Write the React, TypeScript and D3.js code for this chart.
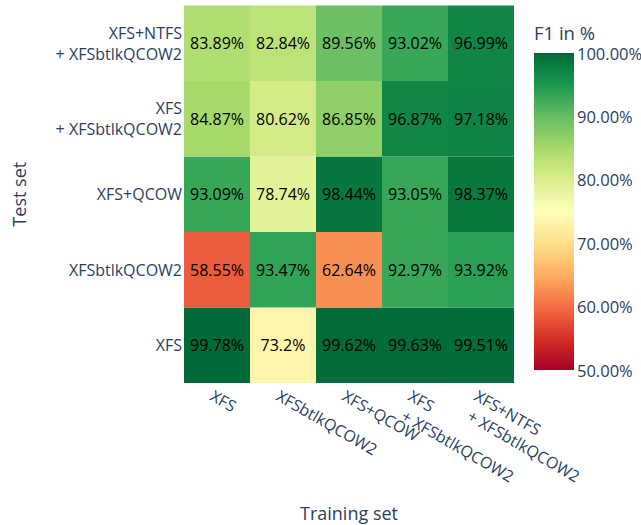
import { useEffect, useRef } from "react"
import * as d3 from "d3"

// training sets (columns) and test sets (rows, bottom to top)
const trainSets = ["XFS", "XFSbtlkQCOW2", "XFS+QCOW", "XFS\n+ XFSbtlkQCOW2", "XFS+NTFS\n+ XFSbtlkQCOW2"]
const testSets = ["XFS", "XFSbtlkQCOW2", "XFS+QCOW", "XFS\n+ XFSbtlkQCOW2", "XFS+NTFS\n+ XFSbtlkQCOW2"]

// F1 scores, one row per test set, one value per training set
const f1Xfs = [99.78, 73.2, 99.62, 99.63, 99.51]
const f1Btlk = [58.55, 93.47, 62.64, 92.97, 93.92]
const f1Qcow = [93.09, 78.74, 98.44, 93.05, 98.37]
const f1XfsBtlk = [84.87, 80.62, 86.85, 96.87, 97.18]
const f1XfsNtfsBtlk = [83.89, 82.84, 89.56, 93.02, 96.99]
const f1Rows = [f1Xfs, f1Btlk, f1Qcow, f1XfsBtlk, f1XfsNtfsBtlk]

const colorbarTicks = [50, 60, 70, 80, 90, 100]

const rdylgn = [
    "rgb(165,0,38)", "rgb(215,48,39)", "rgb(244,109,67)", "rgb(253,174,97)",
    "rgb(254,224,139)", "rgb(255,255,191)", "rgb(217,239,139)", "rgb(166,217,106)",
    "rgb(102,189,99)", "rgb(26,152,80)", "rgb(0,104,55)",
]

export default function App() {
    const svgRef = useRef(null)

    useEffect(() => {
        const width = 641
        const height = 525
        const plot = { left: 184, right: 514, top: 5.5, bottom: 383 }
        const font = "'Open Sans', sans-serif"
        const ink = "#2a3f5f"

        const svg = d3.select(svgRef.current)
        svg.selectAll("*").remove()
        svg.attr("width", width).attr("height", height)

        const x = d3.scaleBand().domain(trainSets).range([plot.left, plot.right])
        const y = d3.scaleBand().domain([...testSets].reverse()).range([plot.top, plot.bottom])

        const color = d3
            .scaleLinear<string>()
            .domain(rdylgn.map((_, i) => 50 + i * 5))
            .range(rdylgn)
            .interpolate(d3.interpolateRgb)
            .clamp(true)

        const cells = testSets.flatMap((t, r) => trainSets.map((tr, c) => ({ test: t, train: tr, v: f1Rows[r][c] })))

        svg
            .append("g")
            .selectAll("rect")
            .data(cells)
            .enter()
            .append("rect")
            .attr("x", (d) => x(d.train))
            .attr("y", (d) => y(d.test))
            .attr("width", x.bandwidth())
            .attr("height", y.bandwidth())
            .attr("fill", (d) => color(d.v))

        svg
            .append("g")
            .selectAll("text")
            .data(cells)
            .enter()
            .append("text")
            .attr("x", (d) => x(d.train) + x.bandwidth() / 2)
            .attr("y", (d) => y(d.test) + y.bandwidth() / 2)
            .attr("text-anchor", "middle")
            .attr("dominant-baseline", "central")
            .style("font-family", font)
            .style("font-size", "16px")
            .style("fill", "#000")
            .text((d) => `${d.v}%`)

        // y tick labels
        const yl = svg
            .append("g")
            .selectAll("text")
            .data(testSets)
            .enter()
            .append("text")
            .attr("text-anchor", "end")
            .style("font-family", font)
            .style("font-size", "16px")
            .style("fill", ink)
        yl.each(function (d) {
            const lines = d.split("\n")
            const cy = y(d) + y.bandwidth() / 2
            const lh = 21
            lines.forEach((ln, i) => {
                d3.select(this)
                    .append("tspan")
                    .attr("x", 182)
                    .attr("y", cy + (i - (lines.length - 1) / 2) * lh)
                    .attr("dominant-baseline", "central")
                    .text(ln)
            })
        })

        // x tick labels, rotated
        const xl = svg
            .append("g")
            .selectAll("g")
            .data(trainSets)
            .enter()
            .append("g")
            .attr("transform", (d) => `translate(${x(d) + x.bandwidth() / 2 - 2},${plot.bottom + 6}) rotate(30)`)
        xl.each(function (d) {
            d3.select(this)
                .selectAll("text")
                .data(d.split("\n"))
                .enter()
                .append("text")
                .attr("x", (_, i) => i * 4)
                .attr("y", (_, i) => 12 + i * 21)
                .style("font-family", font)
                .style("font-size", "16px")
                .style("fill", ink)
                .text((ln) => ln)
        })

        // axis titles
        svg
            .append("text")
            .attr("x", (plot.left + plot.right) / 2)
            .attr("y", 513)
            .attr("text-anchor", "middle")
            .attr("dominant-baseline", "central")
            .style("font-family", font)
            .style("font-size", "18px")
            .style("fill", ink)
            .text("Training set")

        svg
            .append("text")
            .attr("transform", `translate(19,${(plot.top + plot.bottom) / 2}) rotate(-90)`)
            .attr("text-anchor", "middle")
            .attr("dominant-baseline", "central")
            .style("font-family", font)
            .style("font-size", "18px")
            .style("fill", ink)
            .text("Test set")

        // colorbar
        const cb = { x: 534, w: 40, top: 53, bottom: 370 }
        const cbScale = d3.scaleLinear().domain([50, 100]).range([cb.bottom, cb.top])
        const grad = svg
            .append("defs")
            .append("linearGradient")
            .attr("id", "cbgrad")
            .attr("x1", 0)
            .attr("y1", 1)
            .attr("x2", 0)
            .attr("y2", 0)
        rdylgn.forEach((c, i) => {
            grad.append("stop").attr("offset", i / (rdylgn.length - 1)).attr("stop-color", c)
        })
        svg
            .append("rect")
            .attr("x", cb.x)
            .attr("y", cb.top)
            .attr("width", cb.w)
            .attr("height", cb.bottom - cb.top)
            .attr("fill", "url(#cbgrad)")

        svg
            .append("g")
            .selectAll("text")
            .data(colorbarTicks)
            .enter()
            .append("text")
            .attr("x", cb.x + cb.w + 3)
            .attr("y", (d) => cbScale(d))
            .attr("dominant-baseline", "central")
            .style("font-family", font)
            .style("font-size", "16.5px")
            .style("fill", ink)
            .text((d) => `${d.toFixed(2)}%`)

        svg
            .append("text")
            .attr("x", cb.x)
            .attr("y", 32)
            .attr("dominant-baseline", "central")
            .style("font-family", font)
            .style("font-size", "18.5px")
            .style("fill", ink)
            .text("F1 in %")
    }, [])

    return (
        <div style={{ position: "absolute", left: 0, top: 0 }}>
            <svg ref={svgRef}></svg>
        </div>
    )
}
